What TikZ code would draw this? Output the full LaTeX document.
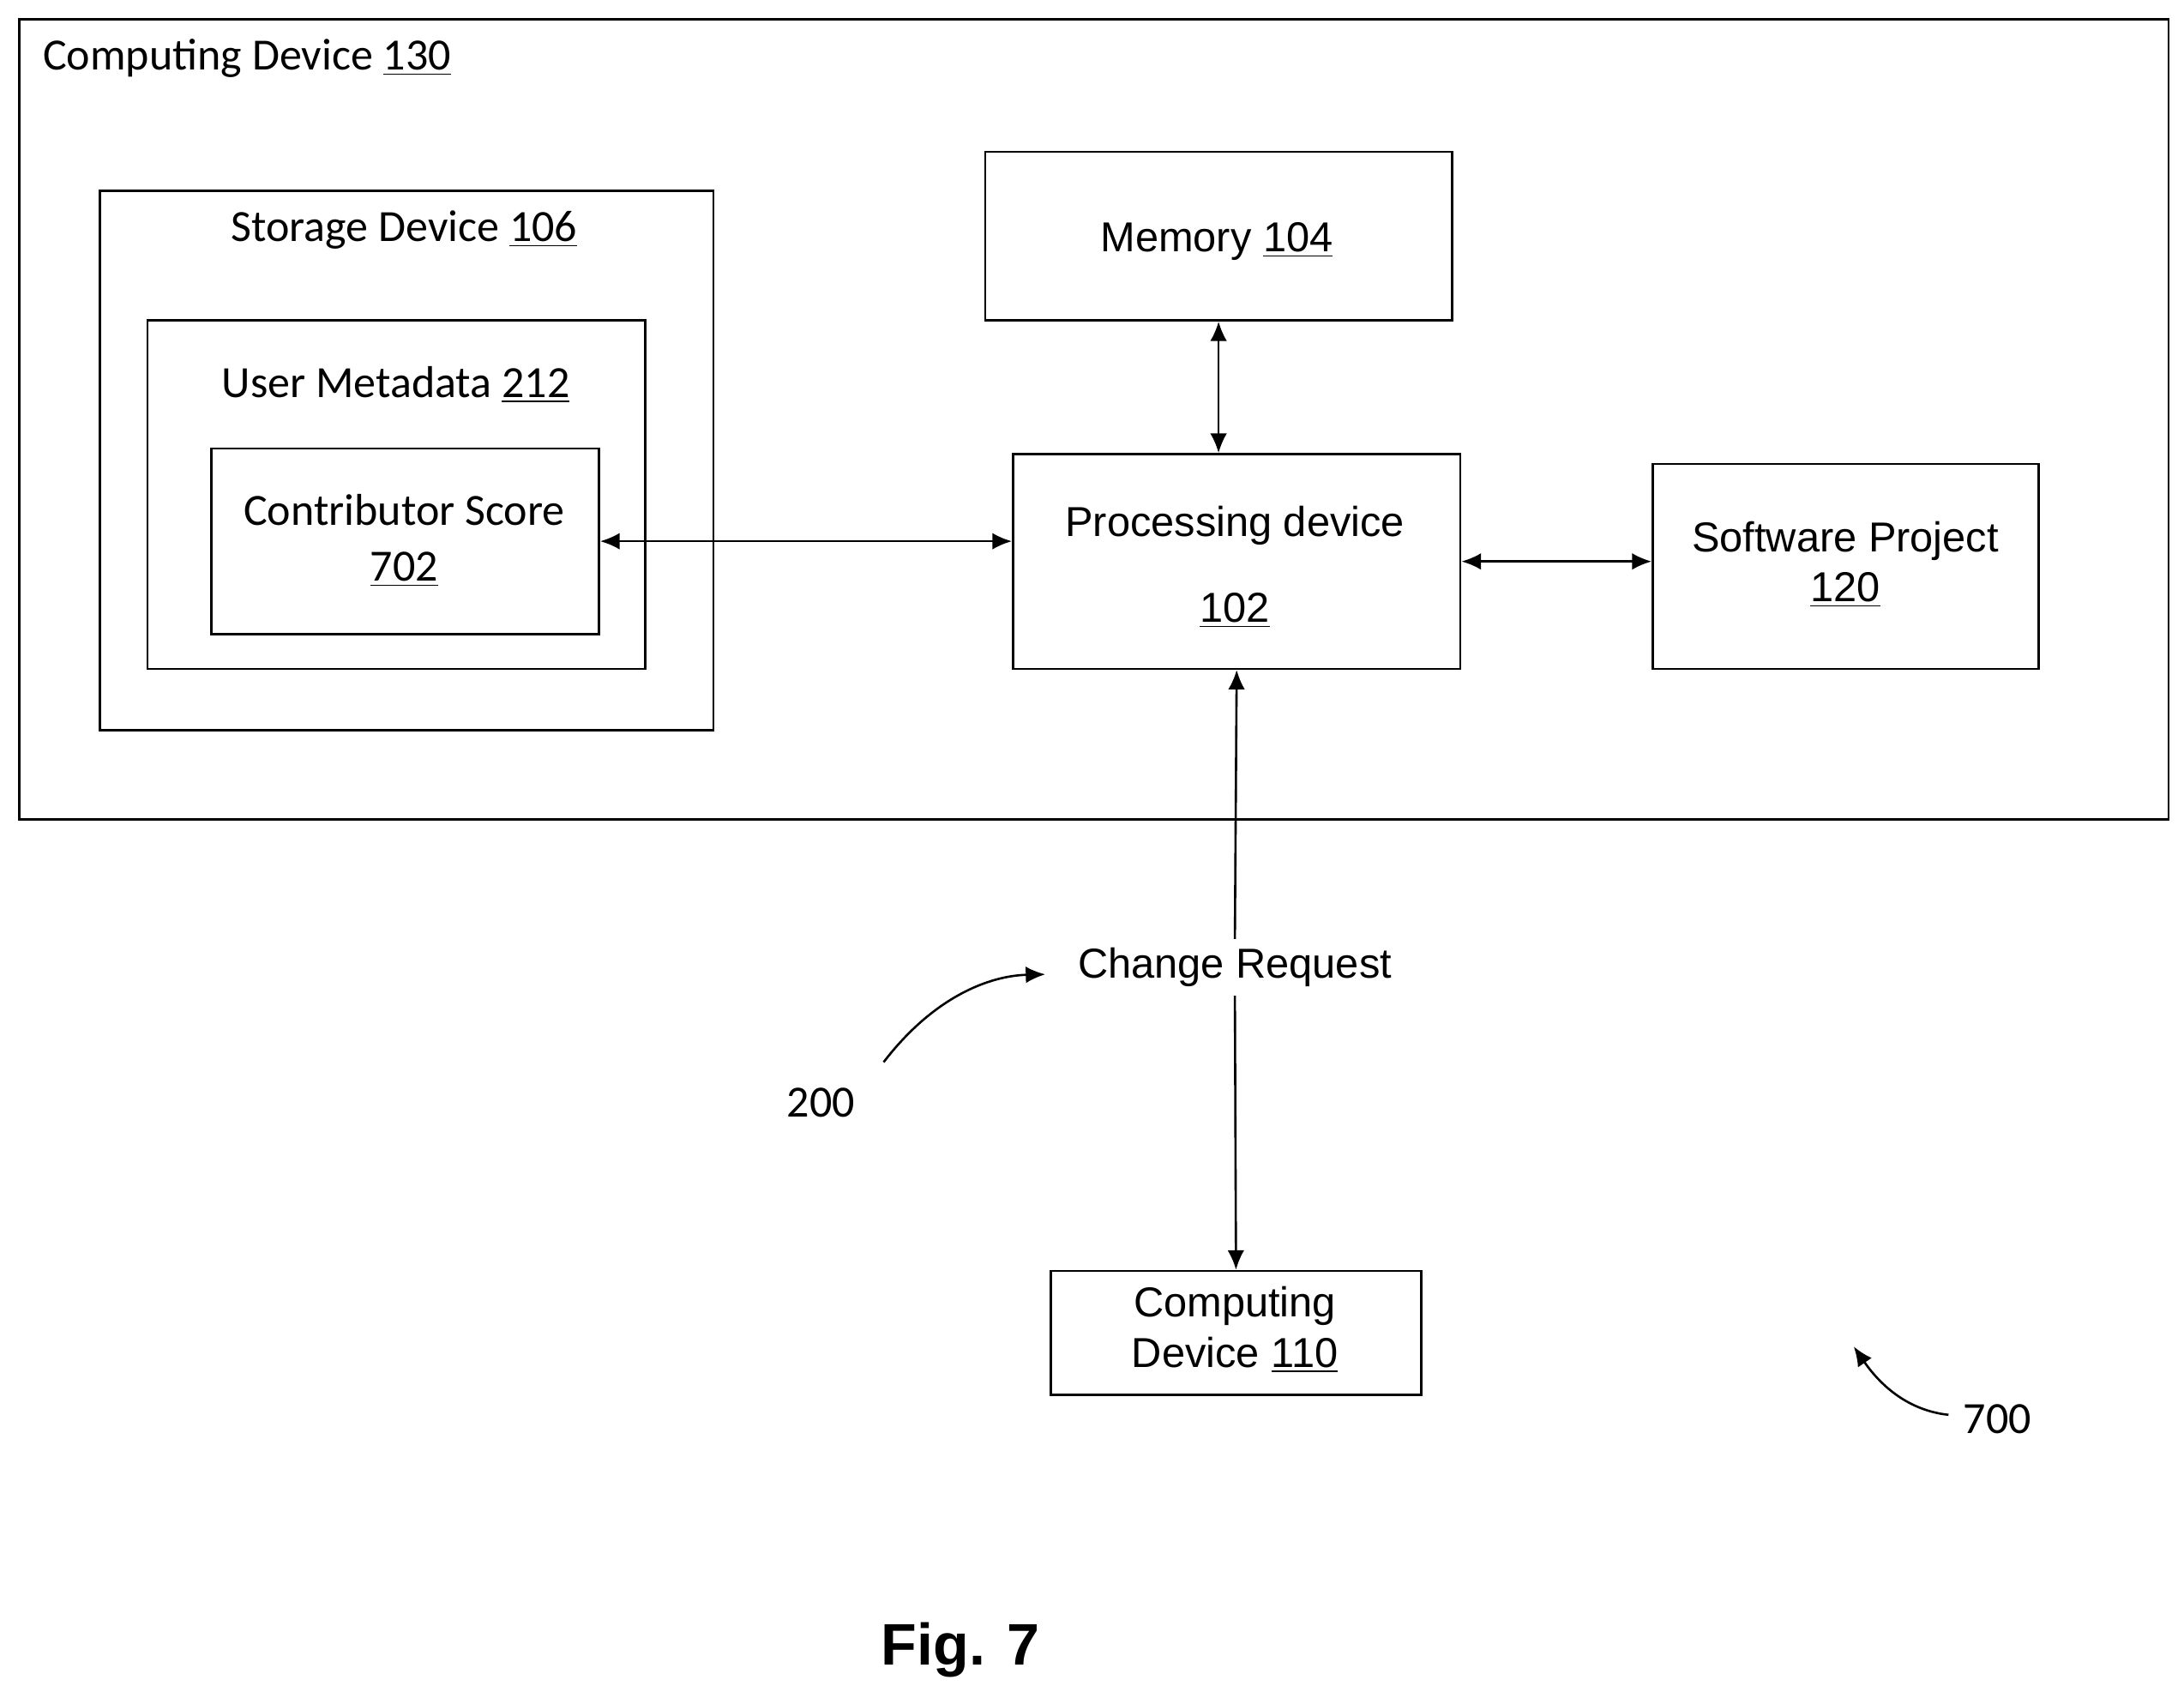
\documentclass[tikz,border=0pt]{standalone}
\usepackage{fontspec}
\setmainfont{Carlito}
\newfontfamily\arialfont{Liberation Sans}
\usetikzlibrary{arrows.meta}
\begin{document}
\begin{tikzpicture}[x=0.5pt,y=0.5pt,yscale=-1,xscale=1,
  box/.style={draw,line width=0.8pt,anchor=north west,inner sep=0pt},
  cal/.style={font=\fontsize{16}{19}\selectfont,inner sep=0.75pt},
  ari/.style={font=\arialfont\fontsize{15}{18}\selectfont,inner sep=0.75pt,align=center},
  link/.style={line width=0.8pt,{Latex[length=7pt,width=6pt]}-{Latex[length=7pt,width=6pt]}},
  tip/.style={line width=0.8pt,-{Latex[length=7pt,width=6pt]}}]
\useasboundingbox (0,0) rectangle (1567,1218);
% boxes
\node[box,minimum width=771pt,minimum height=287pt] (cd130) at (13,13) {};
\node[box,minimum width=220pt,minimum height=193.5pt] (stor) at (71,136) {};
\node[box,minimum width=178.5pt,minimum height=125pt] (meta) at (105,229) {};
\node[box,minimum width=139pt,minimum height=66.5pt] (score) at (151,321) {};
\node[box,minimum width=167.5pt,minimum height=60.5pt] (mem) at (706,108) {};
\node[box,minimum width=160.5pt,minimum height=77pt] (proc) at (726,325) {};
\node[box,minimum width=138.5pt,minimum height=73.5pt] (soft) at (1185,332) {};
\node[box,minimum width=133pt,minimum height=44.5pt] (cd110) at (753,911) {};
% Text Node
\node[cal,anchor=west] (t130) at (29,42) {Computing Device \underline{130}};
\node[cal] (t106) at (290,165) {Storage Device \underline{106}};
\node[cal] (t212) at (284,276) {User Metadata \underline{212}};
\node[cal,align=center] (t702) at (290,388) {Contributor Score\\[1pt]\underline{702}};
\node[ari] (t104) at (873,173) {Memory \underline{104}};
\node[ari] (t102a) at (886,377) {Processing device};
\node[ari] (t102b) at (886,438) {\underline{102}};
\node[ari] (t120) at (1324,405) {Software Project\\\underline{120}};
\node[ari] (t110) at (886,954) {Computing\\Device \underline{110}};
\node[ari,fill=white,inner sep=3pt] (cr) at (886,694) {Change Request};
\node[cal] (l200) at (589,791) {200};
\node[cal] (l700) at (1433,1018) {700};
\node[font=\arialfont\bfseries\fontsize{21}{25}\selectfont] (fig) at (689,1184) {Fig. 7};
% connectors
\draw[link] (mem.south) -- (mem.south |- proc.north);
\draw[link] (score.east) -- (score.east -| proc.west);
\draw[link] (proc.east) -- (proc.east -| soft.west);
\draw[tip] (cr.north) -- (proc.south);
\draw[tip] (cr.south) -- (cd110.north);
\coordinate (a200) at (634,762);
\coordinate (b200) at (750,699);
\draw[tip] (a200) .. controls (670,715) and (710,700) .. (b200);
\coordinate (a700) at (1398,1015);
\coordinate (b700) at (1330,966);
\draw[tip] (a700) .. controls (1370,1012) and (1350,995) .. (b700);
\end{tikzpicture}
\end{document}
